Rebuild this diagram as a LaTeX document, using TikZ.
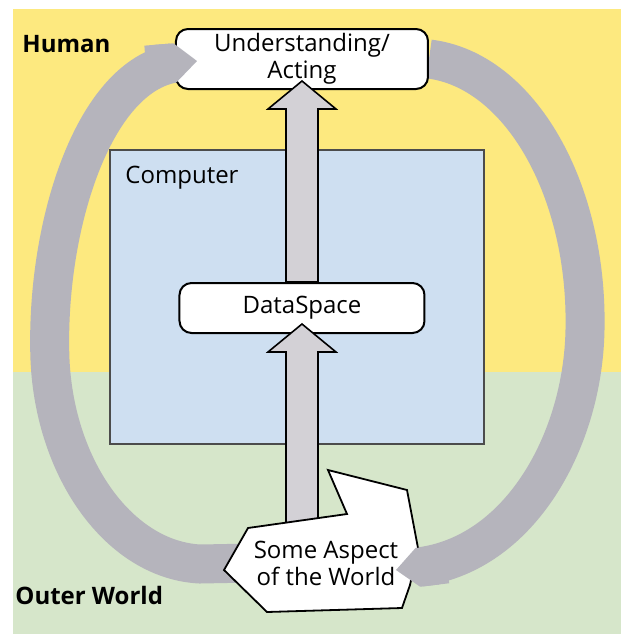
\documentclass[tikz,border=0pt]{standalone}
\usepackage{fontspec}
\setmainfont{Open Sans}
\usetikzlibrary{arrows.meta,calc}
\pgfdeclarelayer{back}
\pgfsetlayers{back,main}
\definecolor{humanbg}{HTML}{FDE97F}
\definecolor{worldbg}{HTML}{D6E6CA}
\definecolor{compbg}{HTML}{CEDFF1}
\definecolor{loopgray}{HTML}{B5B4BC}
\definecolor{shaftgray}{HTML}{D3D1D6}
\newcommand{\blockarrow}[2]{%
  \draw[blockarrow] ($(#1)+(-16,0)$) -- ($(#2)+(-16,28)$) -- ($(#2)+(-34,28)$) -- (#2)
    -- ($(#2)+(34,28)$) -- ($(#2)+(16,28)$) -- ($(#1)+(16,0)$) -- cycle;}
\begin{document}
\begin{tikzpicture}[x=0.5pt,y=-0.5pt,font=\fontsize{12}{13.5}\selectfont,
roundbox/.style={draw,fill=white,rounded corners=6pt,line width=1pt,align=center,inner sep=0pt},
blockarrow/.style={draw,fill=shaftgray,line width=0.8pt,line join=miter},
band/.style={draw=loopgray,line width=19.5pt},
bandtip/.style={band,-{Triangle Cap[length=11pt]}},
region/.style={font=\fontsize{12}{13.5}\selectfont\bfseries,anchor=base west,inner sep=0pt}]
\useasboundingbox (0,0) rectangle (621,634);
\begin{pgfonlayer}{back}
\fill[humanbg] (13,9) rectangle (621,372);
\fill[worldbg] (13,372) rectangle (621,634);
\draw[draw=black!70,fill=compbg,line width=0.8pt] (110,150) rectangle (484,444);
\end{pgfonlayer}
\draw (22,52) node[region] (human) {Human};
\draw (15,604) node[region] (outer) {Outer World};
\draw (125,183) node[anchor=base west,inner sep=0pt] (computer) {Computer};
\draw (302,59) node[roundbox,minimum width=126pt,minimum height=30pt] (act) {Understanding/\\Acting};
\draw (302,308) node[roundbox,minimum width=122.5pt,minimum height=25pt] (data) {DataSpace};
\coordinate (foot) at (302,528);
\coordinate (notch) at (418,567);
\blockarrow{data.north}{$(act.south)+(0,-9)$}
\blockarrow{foot}{$(data.south)+(0,-10)$}
\draw[draw=black,fill=white,line width=0.9pt,line join=miter] (328,470) -- (407,490) -- (418,548)
  -- (410,585) -- (402,608) -- (267,612) -- (224,570) -- (248,528) -- (347,514) -- cycle;
\draw (326,563) node[align=center,inner sep=0pt] (world) {Some Aspect\\of the World};
\draw[bandtip] ($(act.west)+(-3,4)$) -- ($(act.west)+(22,2)$);
\draw[bandtip] ($(notch)+(3,0)$) -- ($(notch)+(-22,3)$);
\begin{pgfonlayer}{back}
\draw[band] (world.west) -- (200,564) .. controls (120,560) and (55,470) .. (50,360)
  .. controls (45,230) and (92,76) .. ($(act.west)+(0,4)$);
\draw[band] (act.east) .. controls (520,70) and (588,190) .. (585,330)
  .. controls (583,440) and (520,555) .. (notch);
\end{pgfonlayer}
\end{tikzpicture}
\end{document}
